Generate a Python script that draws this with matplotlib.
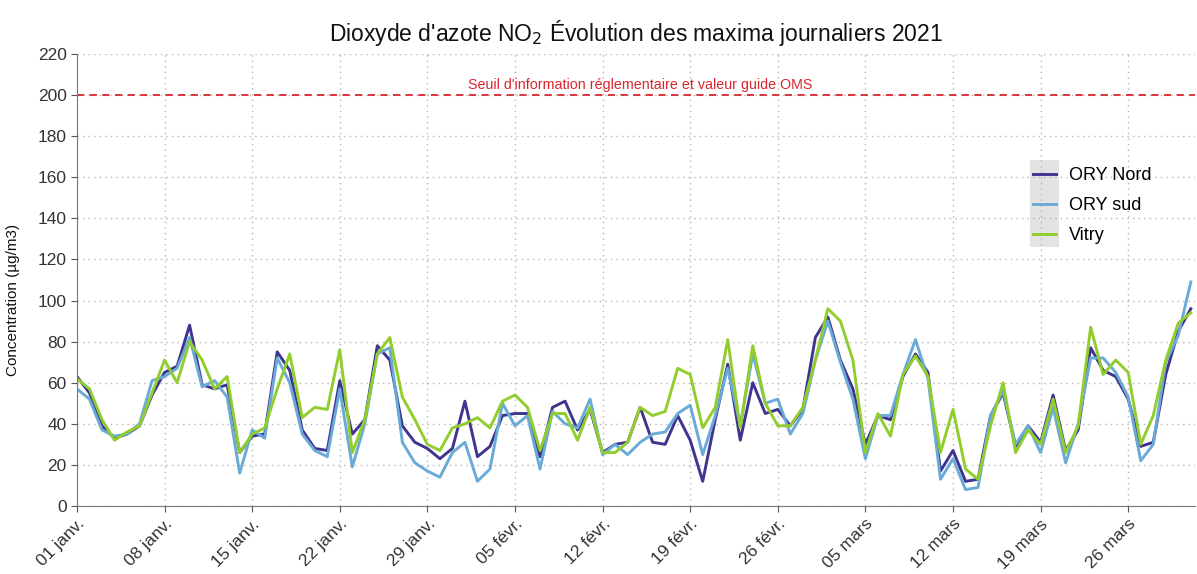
import matplotlib
matplotlib.use("Agg")
import matplotlib.pyplot as plt
from matplotlib.patches import Rectangle
import pandas as pd

plt.rcParams['font.family'] = ['Liberation Sans', 'DejaVu Sans']

# daily maxima, 01/01/2021 -> 31/03/2021
dates = pd.date_range('2021-01-01', '2021-03-31', freq='D')

ory_nord = [63, 55, 39, 33, 35, 39, 54, 65, 68, 88, 59, 57, 59, 26, 34, 35, 75, 66, 37, 28,
            27, 61, 35, 42, 78, 71, 39, 31, 28, 23, 28, 51, 24, 29, 44, 45, 45, 24, 48, 51,
            37, 47, 26, 30, 31, 48, 31, 30, 44, 32, 12, 42, 69, 32, 60, 45, 47, 39, 47, 82,
            92, 71, 57, 30, 44, 42, 63, 74, 65, 17, 27, 12, 13, 44, 55, 29, 39, 31, 54, 27,
            37, 77, 66, 63, 52, 29, 31, 64, 85, 96]
ory_sud = [57, 52, 37, 34, 35, 40, 61, 63, 67, 82, 58, 61, 53, 16, 37, 33, 72, 60, 35, 27,
           24, 57, 19, 40, 74, 77, 31, 21, 17, 14, 26, 31, 12, 18, 50, 39, 44, 18, 46, 40,
           38, 52, 25, 30, 25, 31, 35, 36, 45, 49, 25, 44, 67, 39, 74, 50, 52, 35, 45, 71,
           90, 70, 52, 23, 44, 44, 64, 81, 62, 13, 23, 8, 9, 44, 56, 30, 39, 26, 48, 21,
           40, 72, 72, 65, 53, 22, 30, 70, 83, 109]
vitry = [62, 57, 42, 32, 36, 39, 55, 71, 60, 80, 71, 57, 63, 26, 35, 38, 57, 74, 43, 48,
         47, 76, 26, 42, 74, 82, 53, 42, 30, 27, 38, 40, 43, 38, 51, 54, 48, 27, 45, 45,
         32, 48, 26, 26, 31, 48, 44, 46, 67, 64, 38, 48, 81, 38, 78, 50, 39, 39, 48, 71,
         96, 90, 71, 26, 45, 34, 64, 73, 63, 26, 47, 18, 13, 39, 60, 26, 37, 30, 52, 26,
         39, 87, 64, 71, 65, 30, 44, 71, 89, 94]

series = [('ORY Nord', ory_nord, '#3f3590'),
          ('ORY sud', ory_sud, '#6aaad6'),
          ('Vitry', vitry, '#92cd2e')]

seuil = 200
mois = {1: 'janv.', 2: 'févr.', 3: 'mars'}
tick_dates = pd.date_range('2021-01-01', '2021-03-31', freq='7D')
tick_labels = [f"{d.day:02d} {mois[d.month]}" for d in tick_dates]

fig = plt.figure(figsize=(11.97, 5.74), dpi=100)
ax = fig.add_axes([0.0643, 0.1185, 0.934, 0.7875])

for name, vals, col in series:
    ax.plot(dates, vals, color=col, lw=2.1, label=name)

ax.axhline(seuil, color='#d9262f', lw=1.3, ls=(0, (4, 3)))
ax.text(pd.Timestamp('2021-02-15'), seuil + 1.5,
        "Seuil d'information réglementaire et valeur guide OMS",
        color='#d9262f', fontsize=10.3, ha='center', va='bottom')

ax.set_ylim(0, 220)
ax.set_yticks(range(0, 221, 20))
ax.set_xlim(dates[0], dates[-1] + pd.Timedelta(hours=8))
ax.set_xticks(tick_dates)
ax.set_xticklabels(tick_labels, rotation=45, ha='right', rotation_mode='anchor')

ax.grid(True, color='#b5b5b5', ls=(0, (1, 3)), lw=1.0)
for s in ['top', 'right']:
    ax.spines[s].set_visible(False)
for s in ['left', 'bottom']:
    ax.spines[s].set_color('#777777')
ax.tick_params(axis='both', colors='#555555', labelcolor='#333333', labelsize=12.5,
               length=4, direction='out')
ax.set_ylabel('Concentration (µg/m3)', fontsize=11, color='#111111')
ax.yaxis.set_label_coords(-0.051, 0.456)

fig.suptitle("Dioxyde d'azote NO$_2$ Évolution des maxima journaliers 2021",
             x=0.531, y=0.968, fontsize=16.5, color='#111111')

# grey key background like ggplot
ax.add_patch(Rectangle((0.852, 0.573), 0.026, 0.192, transform=ax.transAxes,
                       facecolor='#e3e3e3', edgecolor='none', zorder=1))
leg = ax.legend(loc='upper left', bbox_to_anchor=(0.855, 0.749), frameon=False,
                fontsize=13, handlelength=1.28, labelspacing=0.72, handletextpad=0.72,
                borderpad=0, borderaxespad=0)

fig.savefig('out.png', dpi=100)
